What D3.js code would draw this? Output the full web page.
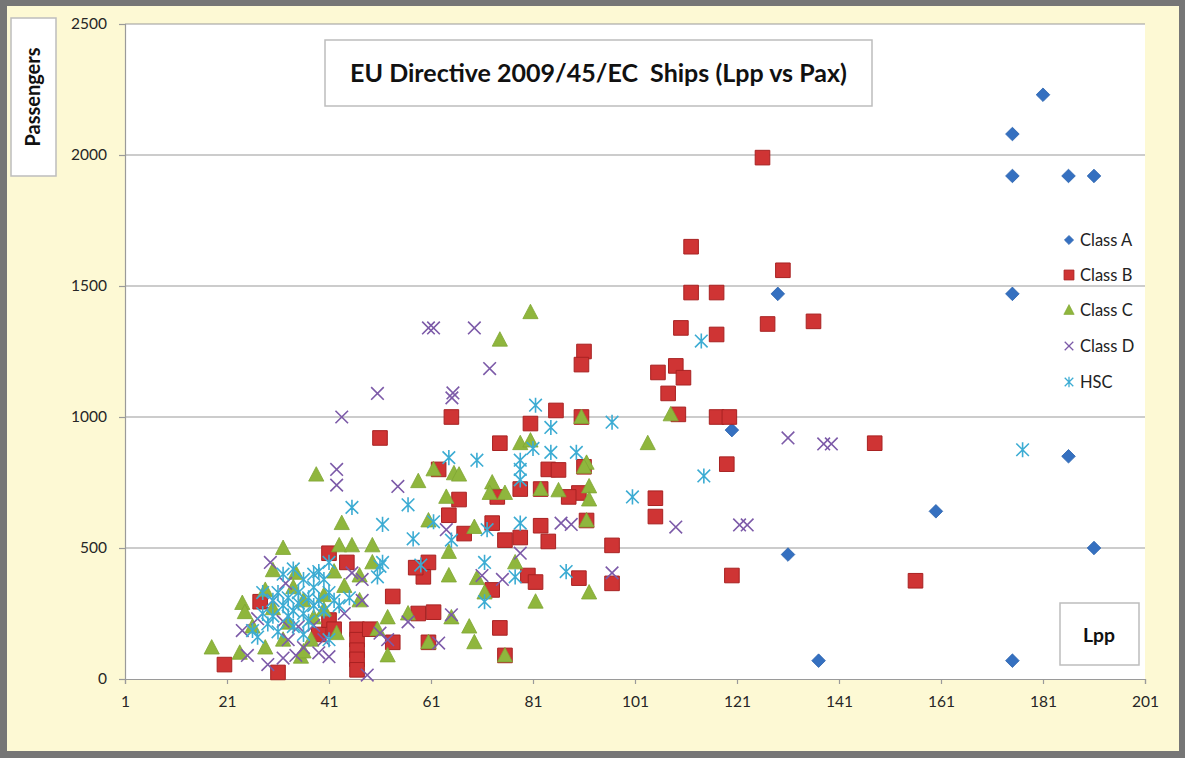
<!DOCTYPE html>
<html>
<head>
<meta charset="utf-8">
<script src="https://cdn.jsdelivr.net/npm/d3@7"></script>
<style>
  html, body { margin: 0; padding: 0; background: #ffffff; }
  svg { display: block; }
  text { font-family: Lato, "Open Sans", sans-serif; }
</style>
</head>
<body>
<svg id="chart" width="1185" height="758"></svg>
<script>
// Ship length between perpendiculars (m) vs. passenger capacity, per class
const classA = [
  [175,2080],[181,2230],[175,1920],[186,1920],[191,1920],[175,1470],[129,1470],
  [120,950],[186,850],[160,640],[131,475],[191,500],[137,70],[175,70]
];
const classB = [
  [126,1990],[112,1650],[130,1560],[112,1475],[117,1475],[127,1355],[136,1365],
  [110,1340],[117,1315],[91,1250],[90.5,1200],[109,1195],[105.5,1170],[110.5,1150],
  [107.5,1090],[109.5,1010],[117,1000],[119.5,1000],[148,900],[119,820],[120,395],
  [156,375],[105,690],[105,620],[96.5,510],[96.5,365],[90,385],[90.5,1000],[91,810],
  [90,710],[88,695],[91.5,605],[85.5,1025],[80.5,975],[74.5,900],[65,1000],[51,920],
  [84,800],[86,798],[78.5,725],[82.5,725],[74,695],[62.5,800],[66.5,685],[64.5,625],
  [67.5,555],[73,595],[75.5,530],[78.5,540],[82.5,585],[84,525],[60.5,445],[59.5,390],
  [58,425],[73,340],[80,395],[81.5,370],[53.5,315],[58.5,250],[61.5,255],[74.5,195],
  [75.5,90],[60.5,140],[41,480],[44.5,445],[53.5,140],[39,170],[41,225],[27.5,295],
  [20.5,55],[31,25],[46.5,190],[46.5,150],[46.5,110],[46.5,75],[46.5,35],[42,190],[49,190]
];
const classC = [
  [80.5,1400],[74.5,1295],[103.5,900],[108,1010],[90.5,1000],[78.5,900],[80.5,910],
  [38.5,780],[58.5,755],[61.5,800],[65.5,785],[66.5,780],[73,750],[72.5,710],[75.5,710],
  [82.5,725],[86,720],[92,735],[92,685],[91.5,825],[91,810],[64,695],[60.5,605],
  [69.5,580],[91.5,605],[64.5,485],[64.5,395],[70,385],[71.5,330],[77.5,445],[81.5,295],
  [92,330],[65,235],[68.5,200],[69.5,140],[75.5,90],[60.5,140],[43.5,595],[43,510],
  [45.5,510],[49.5,445],[47,395],[52.5,235],[56.5,250],[52.5,90],[50.5,190],[42.5,175],
  [37.5,150],[35.5,85],[32,500],[30,415],[34.5,405],[28.5,340],[24,290],[24.5,255],
  [32,150],[28.5,120],[18,120],[23.5,100],[36,105],[40,265],[49.5,510],[40,320],[36,300],
  [38,235],[44,355],[47,300],[33,215],[30,270],[26,200],[42,410],[34,350]
];
const classD = [
  [69.5,1340],[60.5,1340],[61.5,1340],[72.5,1185],[65.3,1092],[65.1,1073],[50.5,1090],
  [43.5,1000],[42.5,800],[42.5,740],[54.5,735],[64,570],[86.5,595],[88.5,590],[78.5,480],
  [71,395],[75,380],[96.5,405],[109,580],[121.5,588],[123,588],[131,920],[138,897],
  [139.5,897],[65,245],[62.5,137],[56.5,218],[48.5,15],[47.5,300],[45.5,405],[47.5,380],
  [29.5,445],[32.5,365],[24,185],[32,220],[25,90],[29,55],[32,80],[34.5,90],[39,100],
  [38,205],[41,85],[51,175],[52.5,150],[30,300],[33,150],[36,120],[27,230],[35,200],
  [40,150],[44,250]
];
const classHSC = [
  [114,1290],[177,875],[114.5,775],[100.5,695],[96.5,980],[87.5,410],[89.5,865],
  [84.5,865],[81,880],[81.5,1045],[84.5,960],[78.5,835],[78.5,800],[78.5,760],[70,835],
  [64.5,845],[56.5,665],[51.5,590],[57.5,535],[61.5,600],[65,530],[72,570],[78.5,595],
  [51,430],[59,435],[71.5,445],[77.5,390],[71.5,295],[45.5,655],[41,445],[51.5,445],
  [50.5,390],[45,310],[41,150],[26,185],
  [28,250],[29,210],[30,300],[31,330],[31,180],[32,280],[33,240],[33,310],[34,260],
  [34,200],[35,330],[35,290],[36,250],[36,380],[37,310],[37,220],[38,280],[38,350],
  [39,300],[39,410],[40,260],[40,380],[41,330],[42,300],[43,280],[27,160],[28,330],
  [30,240],[32,400],[36,170],[34,420],[38,400]
];

const xTicks = [1, 21, 41, 61, 81, 101, 121, 141, 161, 181, 201];
const yTicks = [0, 500, 1000, 1500, 2000, 2500];
const seriesNames = ["Class A", "Class B", "Class C", "Class D", "HSC"];

const W = 1185, H = 758;
const plot = { left: 125, right: 1145, top: 24, bottom: 679 };

const x = d3.scaleLinear().domain([1, 201]).range([plot.left, plot.right]);
const y = d3.scaleLinear().domain([0, 2500]).range([plot.bottom, plot.top]);

const svg = d3.select("#chart");

// frame and chart background
svg.append("rect").attr("width", W).attr("height", H).attr("fill", "#767676");
svg.append("rect").attr("x", 7).attr("y", 6).attr("width", W - 13).attr("height", H - 13)
  .attr("fill", "#fdf9d4");

// plot area
svg.append("rect")
  .attr("x", plot.left).attr("y", plot.top)
  .attr("width", plot.right - plot.left).attr("height", plot.bottom - plot.top)
  .attr("fill", "#ffffff");

// horizontal gridlines
svg.append("g").selectAll("line").data(yTicks.filter(v => v > 0)).join("line")
  .attr("x1", plot.left).attr("x2", plot.right)
  .attr("y1", d => y(d)).attr("y2", d => y(d))
  .attr("stroke", "#9a9a9a").attr("stroke-width", 1.2);

// axes
const xAxis = d3.axisBottom(x).tickValues(xTicks).tickSize(5).tickPadding(12).tickFormat(d3.format("d"));
const yAxis = d3.axisLeft(y).tickValues(yTicks).tickSize(6).tickPadding(12).tickFormat(d3.format("d"));

const gx = svg.append("g").attr("transform", `translate(0,${plot.bottom})`).call(xAxis);
const gy = svg.append("g").attr("transform", `translate(${plot.left},0)`).call(yAxis);
[gx, gy].forEach(g => {
  g.select(".domain").attr("stroke", "#9a9a9a").attr("stroke-width", 1.2);
  g.selectAll(".tick line").attr("stroke", "#9a9a9a").attr("stroke-width", 1.2);
  g.selectAll(".tick text").attr("fill", "#262626").style("font-size", "15.5px")
    .style("font-family", "Lato, sans-serif");
});

// marker shapes
function diamondPath(s) { return `M0,${-s}L${s},0L0,${s}L${-s},0Z`; }
function squarePath(s) { return `M${-s},${-s}H${s}V${s}H${-s}Z`; }
function trianglePath(s) { return `M0,${-s * 1.05}L${s},${s * 0.85}L${-s},${s * 0.85}Z`; }
function crossPath(s) { return `M${-s},${-s}L${s},${s}M${-s},${s}L${s},${-s}`; }
function starPath(s) { return `M${-s},${-s}L${s},${s}M${-s},${s}L${s},${-s}M0,${-s * 1.2}L0,${s * 1.2}`; }

const styles = [
  { data: classA, path: diamondPath, size: 6.8, fill: "#3570c0", stroke: "#2a62ad", sw: 0.8 },
  { data: classB, path: squarePath, size: 7.3, fill: "#cf3434", stroke: "#a82222", sw: 1 },
  { data: classC, path: trianglePath, size: 7.6, fill: "#8fb63d", stroke: "#7fa634", sw: 0.8 },
  { data: classD, path: crossPath, size: 6.3, fill: "none", stroke: "#7c5aa8", sw: 1.6 },
  { data: classHSC, path: starPath, size: 6.3, fill: "none", stroke: "#3cacd3", sw: 1.6 }
];

styles.forEach(st => {
  svg.append("g").selectAll("path").data(st.data).join("path")
    .attr("transform", d => `translate(${x(d[0])},${y(d[1])})`)
    .attr("d", st.path(st.size))
    .attr("fill", st.fill).attr("stroke", st.stroke).attr("stroke-width", st.sw);
});

// size a label so that it spans the given width
function fitText(sel, width) {
  const len = sel.node().getComputedTextLength();
  const fs = parseFloat(sel.style("font-size"));
  if (len > 0) sel.style("font-size", (fs * width / len) + "px");
  return sel;
}

// legend
const legend = svg.append("g").attr("transform", "translate(1069,240)");
seriesNames.forEach((name, i) => {
  const st = styles[i];
  const row = legend.append("g").attr("transform", `translate(0,${[0, 35, 70, 106, 142][i]})`);
  row.append("path").attr("d", st.path(st.size * 0.68))
    .attr("fill", st.fill).attr("stroke", st.stroke).attr("stroke-width", st.sw * 0.8);
  row.append("text").attr("x", 11).attr("y", 5.5).text(name)
    .attr("fill", "#222").style("font-size", "16.5px");
});

// labelled boxes
function box(x0, y0, w, h) {
  svg.append("rect").attr("x", x0).attr("y", y0).attr("width", w).attr("height", h)
    .attr("fill", "#ffffff").attr("stroke", "#bdbdbd").attr("stroke-width", 1.5);
}

box(325, 40, 547, 66);
const title = svg.append("text").attr("x", 598.5).attr("y", 82).attr("text-anchor", "middle")
  .attr("fill", "#111").style("font-size", "20px").style("font-weight", "bold")
  .attr("xml:space", "preserve")
  .text("EU Directive 2009/45/EC  Ships (Lpp vs Pax)");
fitText(title, 497);

box(11, 18, 45, 158);
const yTitle = svg.append("text").attr("transform", "translate(40,97) rotate(-90)")
  .attr("text-anchor", "middle").attr("fill", "#111")
  .style("font-size", "16px").style("font-weight", "bold").text("Passengers");
fitText(yTitle, 99);

box(1060, 603, 79, 62);
const xTitle = svg.append("text").attr("x", 1099).attr("y", 642).attr("text-anchor", "middle")
  .attr("fill", "#111").style("font-size", "16px").style("font-weight", "bold").text("Lpp");
fitText(xTitle, 32);
</script>
</body>
</html>
